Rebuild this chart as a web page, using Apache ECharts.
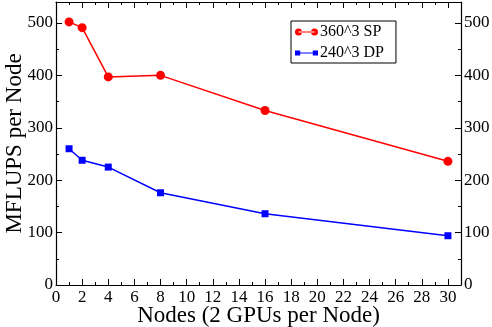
<!DOCTYPE html>
<html><head><meta charset="utf-8">
<script src="https://cdn.jsdelivr.net/npm/echarts@6/dist/echarts.min.js"></script>
<style>html,body{margin:0;padding:0;background:#fff}#c{width:492px;height:327px}</style>
</head><body><div id="c"></div>
<script>
const nodes = [1, 2, 4, 8, 16, 30];
const sp360 = [502, 491, 397, 400, 333, 236];
const dp240 = [260, 238, 225, 176, 136, 94];
const xTicks = [0,2,4,6,8,10,12,14,16,18,20,22,24,26,28,30];
const yTicks = [0,100,200,300,400,500];

const font = "'Liberation Serif', 'DejaVu Serif', serif";
const iconCircle = 'path://M0,7 A7,7 0 1,0 14,7 A7,7 0 1,0 0,7 Z M7,6 L39,6 L39,8 L7,8 Z M32,7 A7,7 0 1,0 46,7 A7,7 0 1,0 32,7 Z';
const iconSquare = 'path://M1,2 L11,2 L11,12 L1,12 Z M6,6 L40,6 L40,8 L6,8 Z M35,2 L45,2 L45,12 L35,12 Z';
const chart = echarts.init(document.getElementById('c'), null, {renderer:'canvas'});
const axisCommon = {
  nameMoveOverlap:false,
  axisLine:{show:true, onZero:false, lineStyle:{color:'#000', width:1.2}},
  axisTick:{show:true, inside:true, length:6, lineStyle:{color:'#000'}},
  minorTick:{show:true, splitNumber:2, length:3, lineStyle:{color:'#000'}},
  splitLine:{show:false}
};
chart.setOption({
  animation:false,
  textStyle:{fontFamily:font},
  grid:{left:56, right:31, top:2, bottom:42, containLabel:false, outerBoundsMode:'none'},
  legend:{
    left:291, top:21, orient:'vertical', itemGap:5,
    backgroundColor:'#fff', borderColor:'#000', borderWidth:1, padding:[3,12,2,4],
    itemWidth:23, itemHeight:7,
    textStyle:{fontFamily:font, fontSize:16, color:'#000', padding:[0,0,0,-3]},
    data:[{name:'360^3 SP', icon:iconCircle},{name:'240^3 DP', icon:iconSquare}]
  },
  xAxis:[
    Object.assign({}, axisCommon, {type:'value', min:0, max:31, interval:2, position:'bottom',
      name:'Nodes (2 GPUs per Node)', nameLocation:'middle', nameGap:19,
      nameTextStyle:{fontFamily:font, fontSize:23, color:'#000'},
      axisLabel:{fontFamily:font, fontSize:17, color:'#000', margin:4,
        formatter:v=>xTicks.includes(v)?String(v):''}}),
    Object.assign({}, axisCommon, {type:'value', min:0, max:31, interval:2, position:'top',
      axisLabel:{show:false}})
  ],
  yAxis:[
    Object.assign({}, axisCommon, {type:'value', min:0, max:540, interval:100, position:'left',
      name:'MFLUPS per Node', nameLocation:'middle', nameGap:30,
      nameTextStyle:{fontFamily:font, fontSize:23, color:'#000'},
      axisLabel:{fontFamily:font, fontSize:17, color:'#000', margin:3,
        formatter:v=>yTicks.includes(v)?String(v):''}}),
    Object.assign({}, axisCommon, {type:'value', min:0, max:540, interval:100, position:'right',
      axisLabel:{fontFamily:font, fontSize:17, color:'#000', margin:3,
        formatter:v=>yTicks.includes(v)?String(v):''}})
  ],
  series:[
    {name:'360^3 SP', type:'line', data:nodes.map((x,i)=>[x,sp360[i]]),
     symbol:'circle', symbolSize:9, itemStyle:{color:'#ff0000'},
     lineStyle:{color:'#ff0000', width:1.5}},
    {name:'240^3 DP', type:'line', data:nodes.map((x,i)=>[x,dp240[i]]),
     symbol:'rect', symbolSize:7, itemStyle:{color:'#0000ff'},
     lineStyle:{color:'#0000ff', width:1.5}}
  ]
});
</script></body></html>
